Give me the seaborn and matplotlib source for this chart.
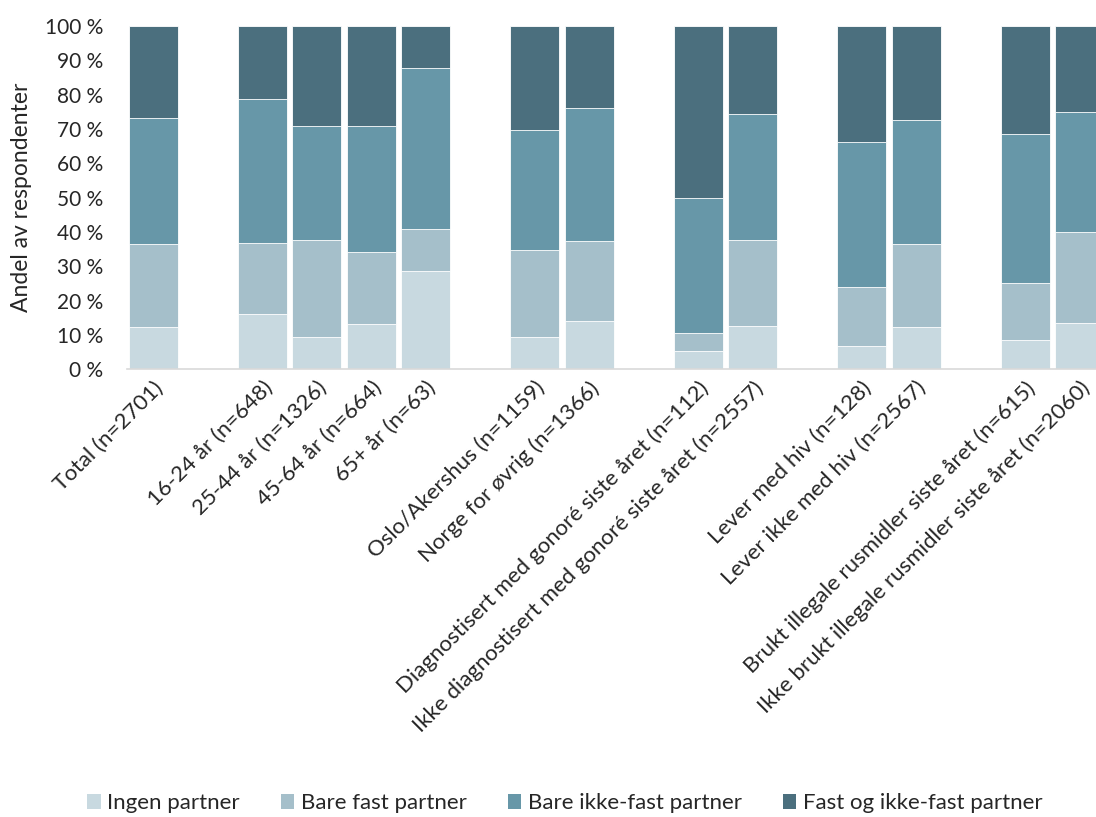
import matplotlib
matplotlib.use("Agg")
import matplotlib.pyplot as plt
import seaborn as sns
import pandas as pd
import numpy as np
from matplotlib.patches import Patch

# Groups of categories (a blank slot separates groups)
groups = [
    ["Total (n=2701)"],
    ["16-24 år (n=648)", "25-44 år (n=1326)", "45-64 år (n=664)", "65+ år (n=63)"],
    ["Oslo/Akershus (n=1159)", "Norge for øvrig (n=1366)"],
    ["Diagnostisert med gonoré siste året (n=112)",
     "Ikke diagnostisert med gonoré siste året (n=2557)"],
    ["Lever med hiv (n=128)", "Lever ikke med hiv (n=2567)"],
    ["Brukt illegale rusmidler siste året (n=615)",
     "Ikke brukt illegale rusmidler siste året (n=2060)"],
]

series = ["Ingen partner", "Bare fast partner", "Bare ikke-fast partner",
          "Fast og ikke-fast partner"]

# Shares in percent, in category order
ingen = [12.3, 16.2, 9.3, 13.2, 28.6, 9.5, 14.0, 5.3, 12.5, 6.9, 12.3, 8.5, 13.4]
bare_fast = [24.1, 20.6, 28.4, 20.9, 12.3, 25.2, 23.3, 5.2, 25.1, 17.1, 24.1, 16.6, 26.6]
bare_ikke_fast = [36.9, 41.9, 33.1, 36.9, 46.8, 34.9, 38.9, 39.3, 36.7, 42.3, 36.3, 43.4, 35.0]
fast_og_ikke = [26.7, 21.3, 29.2, 29.0, 12.3, 30.4, 23.8, 50.2, 25.7, 33.7, 27.3, 31.5, 25.0]

colors = ["#c8d9e0", "#a5bfca", "#6797a8", "#4b6f7e"]

categories = [c for g in groups for c in g]

# Slot order with spacer entries between groups
order = []
for i, g in enumerate(groups):
    if i > 0:
        order.append(" " * i)
    order.extend(g)

df = pd.DataFrame({
    "kategori": categories,
    series[0]: ingen,
    series[1]: bare_fast,
    series[2]: bare_ikke_fast,
    series[3]: fast_og_ikke,
})
cum = df[series].cumsum(axis=1)

sns.set_style("white")
plt.rcParams["font.family"] = ["Lato", "DejaVu Sans"]

fig = plt.figure(figsize=(10.96, 8.17), dpi=100)
ax = fig.add_axes([0.1159, 0.548, 0.884, 0.42])

# Stack by drawing cumulative totals from the top layer down
for k in range(len(series) - 1, -1, -1):
    sns.barplot(x=df["kategori"], y=cum[series[k]], order=order, color=colors[k],
                width=0.9, edgecolor="white", linewidth=0.6, saturation=1,
                ax=ax, errorbar=None)

ax.set_ylim(0, 100)
ax.set_xlim(-0.48, len(order) - 0.7)
ax.set_yticks(np.arange(0, 101, 10))
ax.set_yticklabels([f"{v} %" for v in range(0, 101, 10)], fontsize=15)
ax.set_ylabel("Andel av respondenter", fontsize=16.5)
ax.yaxis.set_label_coords(-0.098, 0.5)
ax.set_xlabel("")
ax.tick_params(axis="y", length=0, pad=17)
ax.tick_params(axis="x", length=0, pad=6)

labels = [lab if lab.strip() else "" for lab in order]
ax.set_xticks(range(len(order)))
ax.set_xticklabels(labels, rotation=45, ha="right", rotation_mode="anchor",
                   fontsize=16)

for side in ["top", "right", "left"]:
    ax.spines[side].set_visible(False)
ax.spines["bottom"].set_color("#d9d9d9")
ax.spines["bottom"].set_linewidth(1.2)

handles = [Patch(facecolor=c, edgecolor="none") for c in colors]
fig.legend(handles, series, loc="center", bbox_to_anchor=(0.5155, 0.017),
           ncol=4, frameon=False, fontsize=16, handlelength=0.6,
           handleheight=0.65, handletextpad=0.3, columnspacing=1.85)

fig.savefig("out.png", dpi=100)
